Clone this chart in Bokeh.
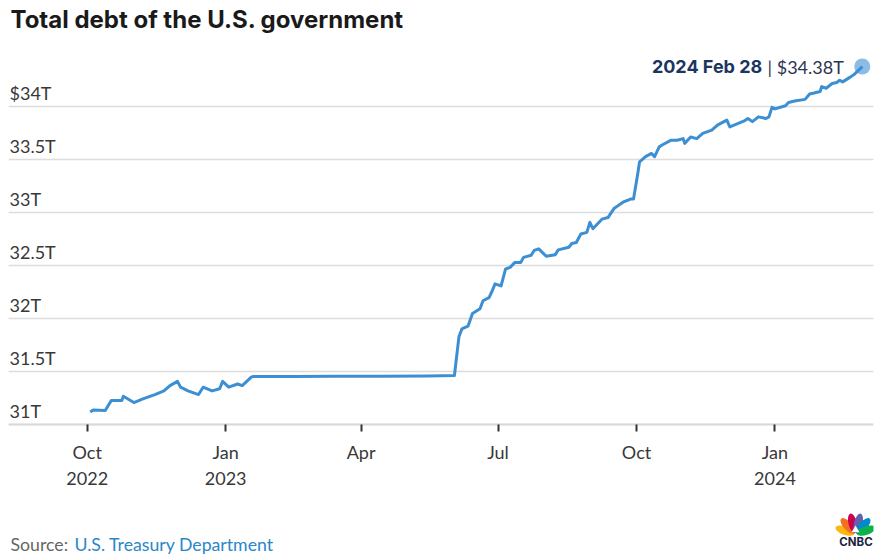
import math
import pandas as pd
from bokeh.plotting import figure
from bokeh.models import LinearAxis, FixedTicker, Grid, Range1d, ColumnDataSource, Label
from bokeh.core.properties import value
from bokeh.embed import file_html
from bokeh.resources import INLINE

# ---------------- data ----------------
dates = [
    "2022-10-03", "2022-10-05", "2022-10-13", "2022-10-17", "2022-10-24", "2022-10-25",
    "2022-11-01", "2022-11-07", "2022-11-15", "2022-11-21", "2022-11-25", "2022-11-30",
    "2022-12-02", "2022-12-07", "2022-12-14", "2022-12-17", "2022-12-23", "2022-12-28",
    "2022-12-30", "2023-01-03", "2023-01-09", "2023-01-12", "2023-01-18", "2023-01-19",
    "2023-02-15", "2023-03-15", "2023-04-15", "2023-05-15", "2023-06-02", "2023-06-05",
    "2023-06-07", "2023-06-11", "2023-06-14", "2023-06-19", "2023-06-21", "2023-06-25",
    "2023-06-27", "2023-06-29", "2023-07-03", "2023-07-06", "2023-07-09", "2023-07-12",
    "2023-07-16", "2023-07-18", "2023-07-23", "2023-07-25", "2023-07-28", "2023-08-02",
    "2023-08-08", "2023-08-10", "2023-08-17", "2023-08-19", "2023-08-22", "2023-08-25",
    "2023-08-29", "2023-08-31", "2023-09-02", "2023-09-08", "2023-09-12", "2023-09-16",
    "2023-09-19", "2023-09-22", "2023-09-27", "2023-09-29", "2023-10-02", "2023-10-03",
    "2023-10-07", "2023-10-11", "2023-10-13", "2023-10-16", "2023-10-18", "2023-10-24",
    "2023-10-28", "2023-11-01", "2023-11-02", "2023-11-06", "2023-11-10", "2023-11-14",
    "2023-11-20", "2023-11-24", "2023-11-30", "2023-12-02", "2023-12-08", "2023-12-12",
    "2023-12-14", "2023-12-17", "2023-12-21", "2023-12-26", "2023-12-28", "2023-12-30",
    "2024-01-01", "2024-01-08", "2024-01-10", "2024-01-14", "2024-01-21", "2024-01-24",
    "2024-01-27", "2024-01-31", "2024-02-01", "2024-02-04", "2024-02-08", "2024-02-11",
    "2024-02-13", "2024-02-15", "2024-02-20", "2024-02-23", "2024-02-27", "2024-02-28",
]
debt = [
    31.12, 31.14, 31.135, 31.23, 31.23, 31.27,
    31.21, 31.245, 31.285, 31.32, 31.37, 31.41,
    31.355, 31.32, 31.285, 31.355, 31.32, 31.34,
    31.41, 31.355, 31.385, 31.37, 31.45, 31.455,
    31.455, 31.458, 31.457, 31.46, 31.465, 31.83,
    31.905, 31.93, 32.05, 32.095, 32.17, 32.20,
    32.26, 32.33, 32.31, 32.47, 32.485, 32.53,
    32.53, 32.58, 32.60, 32.645, 32.66, 32.59,
    32.605, 32.65, 32.675, 32.71, 32.72, 32.80,
    32.815, 32.91, 32.85, 32.94, 32.955, 33.04,
    33.07, 33.10, 33.13, 33.13, 33.385, 33.48,
    33.53, 33.56, 33.53, 33.62, 33.64, 33.685,
    33.685, 33.70, 33.655, 33.715, 33.70, 33.75,
    33.78, 33.83, 33.875, 33.81, 33.845, 33.87,
    33.89, 33.86, 33.905, 33.89, 33.905, 33.995,
    33.98, 34.01, 34.04, 34.055, 34.07, 34.12,
    34.13, 34.145, 34.19, 34.175, 34.22, 34.23,
    34.25, 34.235, 34.28, 34.31, 34.365, 34.38,
]

y_ticks = [31.0, 31.5, 32.0, 32.5, 33.0, 33.5, 34.0]
y_tick_labels = ["31T", "31.5T", "32T", "32.5T", "33T", "33.5T", "$34T"]
x_tick_dates = ["2022-10-01", "2023-01-01", "2023-04-01", "2023-07-01", "2023-10-01", "2024-01-01"]
x_tick_labels = ["Oct\n2022", "Jan\n2023", "Apr", "Jul", "Oct", "Jan\n2024"]

title_text = "Total debt of the U.S. government"
last_date_text = "2024 Feb 28"
last_value_text = "| $34.38T"
source_prefix = "Source:"
source_name = "U.S. Treasury Department"
logo_text = "CNBC"

# ---------------- layout ----------------
W, H = 888, 557
MS_DAY = 86400000.0
PX_PER_DAY = 1.505
PX_PER_T = 106.0
BORDER_L, BORDER_R = 8, 15
AXIS_Y_PX = 424.3          # pixel row of the 31T baseline
OCT22_PX = 86.7            # pixel column of the Oct 2022 tick

def to_ms(d):
    return pd.Timestamp(d).value / 1e6

x0 = to_ms("2022-10-01") - ((OCT22_PX - BORDER_L) / PX_PER_DAY) * MS_DAY
x1 = x0 + ((W - BORDER_L - BORDER_R) / PX_PER_DAY) * MS_DAY
y1 = 31.0 + AXIS_Y_PX / PX_PER_T
y0 = y1 - H / PX_PER_T

def px_x(page_x):
    return x0 + (page_x - BORDER_L) / PX_PER_DAY * MS_DAY

def px_y(page_y):
    return y1 - page_y / PX_PER_T

FONT = "Lato"
BOLD_FONT = "Inter"

p = figure(width=W, height=H, x_range=Range1d(x0, x1), y_range=Range1d(y0, y1),
           x_axis_type=None, y_axis_type=None, output_backend="svg",
           toolbar_location=None, min_border_left=BORDER_L, min_border_right=BORDER_R,
           min_border_top=0, min_border_bottom=0, outline_line_color=None,
           background_fill_color="white", border_fill_color="white")

grid = Grid(dimension=1, ticker=FixedTicker(ticks=y_ticks),
            grid_line_color="#dcdcdc", grid_line_width=1.5)
p.add_layout(grid)

x_tick_ms = [to_ms(d) for d in x_tick_dates]
xaxis = LinearAxis(ticker=FixedTicker(ticks=x_tick_ms),
                   major_label_overrides={t: l for t, l in zip(x_tick_ms, x_tick_labels)},
                   fixed_location=31.0)
xaxis.axis_line_color = "#d9d9d9"
xaxis.axis_line_width = 2
xaxis.major_tick_line_color = "#333333"
xaxis.major_tick_line_width = 2
xaxis.major_tick_in = 0
xaxis.major_tick_out = 7
xaxis.minor_tick_line_color = None
xaxis.major_label_text_font = FONT
xaxis.major_label_text_font_size = "18px"
xaxis.major_label_text_color = "#383838"
xaxis.major_label_standoff = 9
p.add_layout(xaxis, "below")

# y tick labels sitting above the gridlines
p.text(x=[x0] * len(y_ticks), y=y_ticks, text=y_tick_labels, x_offset=1, y_offset=-13.5,
       text_baseline="middle", text_align="left", text_font=value(FONT),
       text_font_size="18px", text_color="#383838")

dts = pd.to_datetime(dates)
src = ColumnDataSource(dict(x=dts, y=debt))
LINE_COLOR = "#3d8fd3"
p.line("x", "y", source=src, line_color=LINE_COLOR, line_width=3, line_join="round")

last = ColumnDataSource(dict(x=[dts[-1]], y=[debt[-1]]))
p.scatter("x", "y", source=last, size=16, fill_color=LINE_COLOR, fill_alpha=0.6, line_color=None)
p.text("x", "y", source=last, text=value(last_date_text), x_offset=-100, y_offset=0,
       text_align="right", text_baseline="middle", text_font=value(BOLD_FONT),
       text_font_style="bold", text_font_size="18px", text_color="#1b3561")
p.text("x", "y", source=last, text=value(last_value_text), x_offset=-18.5, y_offset=0,
       text_align="right", text_baseline="middle", text_font=value(FONT),
       text_font_size="18px", text_color="#2b3550")

# title
p.text(x=[px_x(10)], y=[px_y(18.5)], text=[title_text], text_align="left",
       text_baseline="middle", text_font=value(BOLD_FONT), text_font_style="bold",
       text_font_size="24px", text_color="#1a1a1a")

# source line
p.text(x=[px_x(10)], y=[px_y(543.5)], text=[source_prefix], text_align="left",
       text_baseline="middle", text_font=value(FONT), text_font_size="17.7px",
       text_color="#666666")
p.text(x=[px_x(74)], y=[px_y(543.5)], text=[source_name], text_align="left",
       text_baseline="middle", text_font=value(FONT), text_font_size="17.7px",
       text_color="#2a87c8")

# CNBC peacock logo
feather_colors = ["#fcb711", "#f37021", "#cc004c", "#6460aa", "#0089d0", "#0db14b"]
cx, cy = 855.0, 533.5
fx, fy, fa = [], [], []
for i, c in enumerate(feather_colors):
    ang = math.radians(162 - i * 28.8)
    r = 11.0
    fx.append(px_x(cx + r * math.cos(ang)))
    fy.append(px_y(cy - r * math.sin(ang)))
    fa.append(ang)
p.ellipse(x=fx, y=fy, width=20, height=8.5, angle=fa, width_units="screen",
          height_units="screen", fill_color=feather_colors, line_color=None)
p.scatter(x=[px_x(cx)], y=[px_y(cy - 4)], size=8, marker="triangle",
          fill_color="white", line_color=None)
p.add_layout(Label(x=px_x(855.5), y=px_y(541.5), text=logo_text, text_align="center",
                   text_baseline="middle", text_font=BOLD_FONT, text_font_style="bold",
                   text_font_size="11.5px", text_color="#1c2540"))

open("out.html", "w").write(file_html(p, INLINE))
